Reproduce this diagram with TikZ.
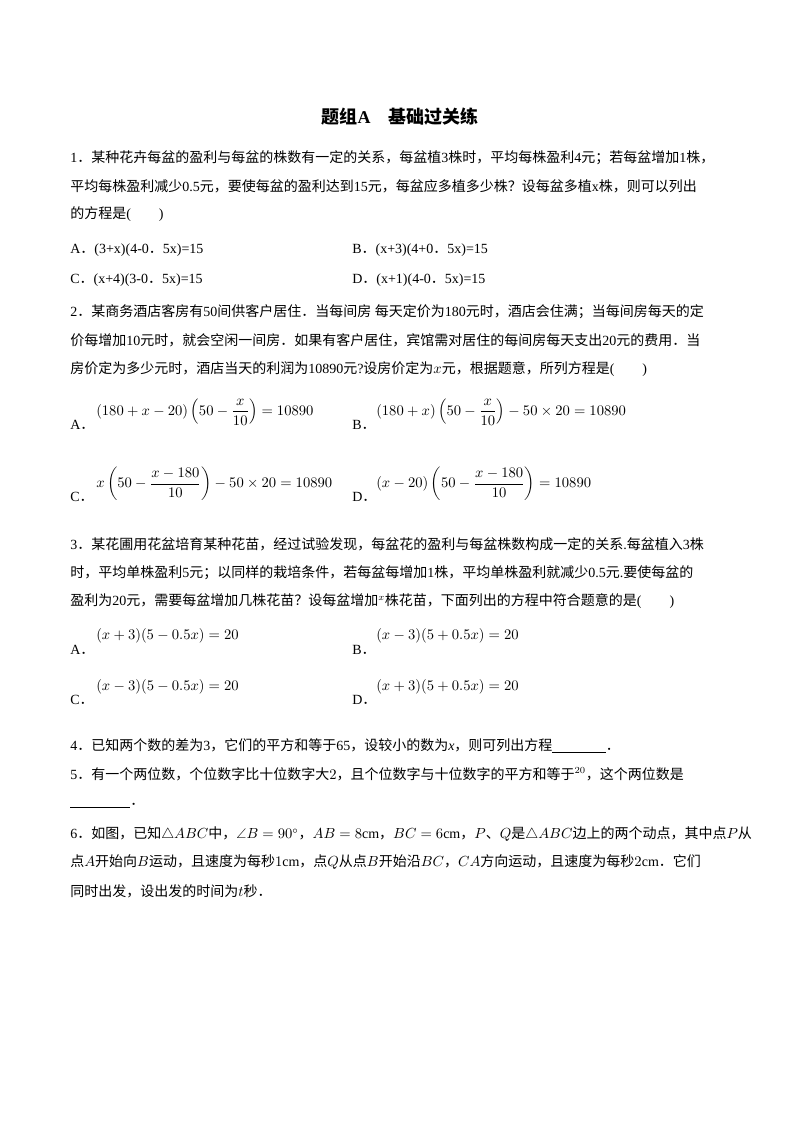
\documentclass[tikz,border=0pt]{standalone}
\usepackage{amsmath,amssymb}
\usepackage{fontspec}
\setmainfont{Liberation Serif}
\newfontfamily\cjk{Noto Sans CJK SC}
\usetikzlibrary{positioning}
% switch to the CJK font for CJK characters
\XeTeXinterchartokenstate=1
\newXeTeXintercharclass\cjkclass
\newcount\cc
\cc="3000 \loop\XeTeXcharclass\cc=\cjkclass \advance\cc by 1 \ifnum\cc<"3040 \repeat
\cc="4E00 \loop\XeTeXcharclass\cc=\cjkclass \advance\cc by 1 \ifnum\cc<"A000 \repeat
\cc="FF00 \loop\XeTeXcharclass\cc=\cjkclass \advance\cc by 1 \ifnum\cc<"FFF0 \repeat
\XeTeXinterchartoks 0 \cjkclass = {\cjk}
\XeTeXinterchartoks 4095 \cjkclass = {\cjk}
\XeTeXinterchartoks \cjkclass 0 = {\rmfamily}
\XeTeXinterchartoks \cjkclass 4095 = {\rmfamily}
\tikzset{
    txt/.style={anchor=west, inner sep=0pt, font=\fontsize{10.5}{12}\selectfont},
    opt/.style={txt},
    ttl/.style={anchor=center, inner sep=0pt, font=\fontsize{13.5}{15}\selectfont\bfseries}
}
\begin{document}
\begin{tikzpicture}[x=0.75pt, y=-0.75pt]
    \useasboundingbox (0,0) rectangle (800,1132);

    % Title
    \node[ttl] (title) at (400,117) {题组A\quad 基础过关练};

    % Question 1
    \node[txt] (q1a) at (70,158) {1．某种花卉每盆的盈利与每盆的株数有一定的关系，每盆植3株时，平均每株盈利4元；若每盆增加1株，};
    \node[txt] (q1b) at (70,186) {平均每株盈利减少0.5元，要使每盆的盈利达到15元，每盆应多植多少株？设每盆多植x株，则可以列出};
    \node[txt] (q1c) at (70,214) {的方程是(\qquad)};
    \node[opt] (q1A) at (70,250) {A．(3+x)(4-0．5x)=15};
    \node[opt] (q1B) at (352,250) {B．(x+3)(4+0．5x)=15};
    \node[opt] (q1C) at (70,280) {C．(x+4)(3-0．5x)=15};
    \node[opt] (q1D) at (352,280) {D．(x+1)(4-0．5x)=15};

    % Question 2
    \node[txt] (q2a) at (70,312) {2．某商务酒店客房有$\mathrm{50}$间供客户居住．当每间房 每天定价为$\mathrm{180}$元时，酒店会住满；当每间房每天的定};
    \node[txt] (q2b) at (70,340) {价每增加$\mathrm{10}$元时，就会空闲一间房．如果有客户居住，宾馆需对居住的每间房每天支出$\mathrm{20}$元的费用．当};
    \node[txt] (q2c) at (70,369) {房价定为多少元时，酒店当天的利润为$\mathrm{10890}$元?设房价定为$x$元，根据题意，所列方程是(\qquad)};
    \node[opt] (q2A) at (70,425) {A．};
    \node[opt] (q2Af) at (96,412) {$\left(180+x-20\right)\left(50-\dfrac{x}{10}\right)=10890$};
    \node[opt] (q2B) at (352,425) {B．};
    \node[opt] (q2Bf) at (376,412) {$\left(180+x\right)\left(50-\dfrac{x}{10}\right)-50\times20=10890$};
    \node[opt] (q2C) at (70,497) {C．};
    \node[opt] (q2Cf) at (96,484) {$x\left(50-\dfrac{x-180}{10}\right)-50\times20=10890$};
    \node[opt] (q2D) at (352,497) {D．};
    \node[opt] (q2Df) at (376,484) {$\left(x-20\right)\left(50-\dfrac{x-180}{10}\right)=10890$};

    % Question 3
    \node[txt] (q3a) at (70,544) {3．某花圃用花盆培育某种花苗，经过试验发现，每盆花的盈利与每盆株数构成一定的关系.每盆植入3株};
    \node[txt] (q3b) at (70,573) {时，平均单株盈利5元；以同样的栽培条件，若每盆每增加1株，平均单株盈利就减少0.5元.要使每盆的};
    \node[txt] (q3c) at (70,601) {盈利为20元，需要每盆增加几株花苗？设每盆增加$^{x}$株花苗，下面列出的方程中符合题意的是(\qquad)};
    \node[opt] (q3A) at (70,650) {A．};
    \node[opt] (q3Af) at (96,636) {$(x+3)(5-0.5x)=20$};
    \node[opt] (q3B) at (352,650) {B．};
    \node[opt] (q3Bf) at (376,636) {$(x-3)(5+0.5x)=20$};
    \node[opt] (q3C) at (70,700) {C．};
    \node[opt] (q3Cf) at (96,687) {$(x-3)(5-0.5x)=20$};
    \node[opt] (q3D) at (352,700) {D．};
    \node[opt] (q3Df) at (376,687) {$(x+3)(5+0.5x)=20$};

    % Question 4, 5
    \node[txt] (q4) at (70,746) {4．已知两个数的差为3，它们的平方和等于65，设较小的数为\textit{x}，则可列出方程\underline{\hspace{40pt}}．};
    \node[txt] (q5a) at (70,774) {5．有一个两位数，个位数字比十位数字大$2$，且个位数字与十位数字的平方和等于$^{20}$，这个两位数是};
    \node[txt] (q5b) at (70,806) {\underline{\hspace{45pt}}．};

    % Question 6
    \node[txt] (q6a) at (70,834) {6．如图，已知$\triangle ABC$中，$\angle B=90^\circ$，$AB=8\mathrm{cm}$，$BC=6\mathrm{cm}$，$P$、$Q$是$\triangle ABC$边上的两个动点，其中点$P$从};
    \node[txt] (q6b) at (70,862) {点$A$开始向$B$运动，且速度为每秒$1\mathrm{cm}$，点$Q$从点$B$开始沿$BC$，$CA$方向运动，且速度为每秒$2\mathrm{cm}$．它们};
    \node[txt] (q6c) at (70,891) {同时出发，设出发的时间为$t$秒．};
\end{tikzpicture}
\end{document}
